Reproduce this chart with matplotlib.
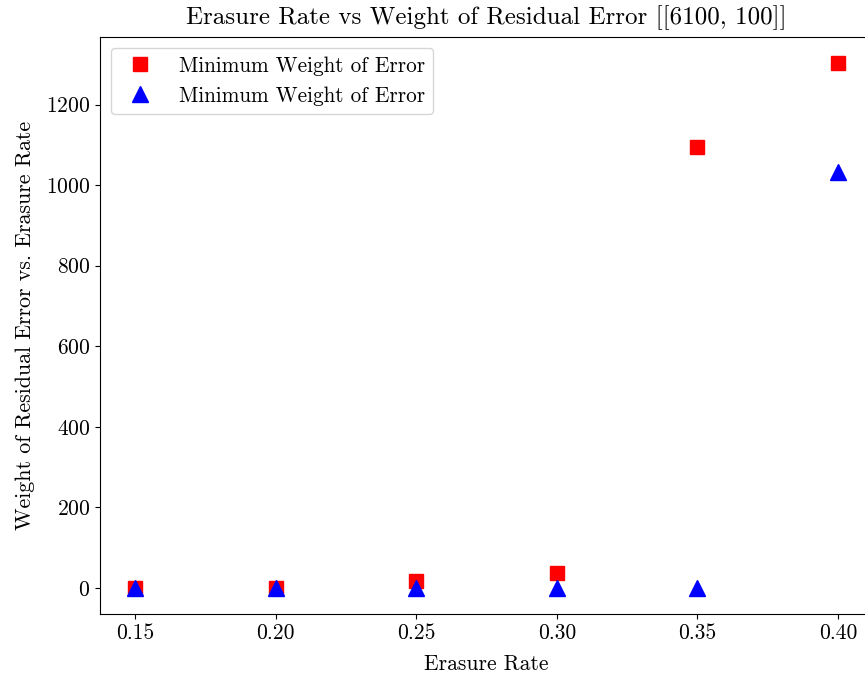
import matplotlib
matplotlib.use("Agg")
import matplotlib.pyplot as plt

plt.rcParams['font.family'] = ['cmr10', 'DejaVu Serif']
plt.rcParams['mathtext.fontset'] = 'cm'
plt.rcParams['axes.unicode_minus'] = False
plt.rcParams['axes.formatter.use_mathtext'] = True

erasure_rate = [0.15, 0.20, 0.25, 0.30, 0.35, 0.40]
red_weights = [0, 0, 18, 37, 1096, 1303]
blue_weights = [0, 0, 0, 0, 0, 1033]
labels = ["Minimum Weight of Error", "Minimum Weight of Error"]
title = "Erasure Rate vs Weight of Residual Error [[6100, 100]]"

fig = plt.figure(figsize=(8.65, 6.79), dpi=100)
ax = fig.add_axes([100/865, (679-614)/679, (873-100)/865, (614-37)/679])

ax.plot(erasure_rate, red_weights, linestyle='none', marker='s', color='red',
        markersize=10.5, label=labels[0])
ax.plot(erasure_rate, blue_weights, linestyle='none', marker='^', color='blue',
        markersize=11, label=labels[1])

ax.set_xticks(erasure_rate)
ax.set_xticklabels([f"{v:.2f}" for v in erasure_rate])
ax.tick_params(labelsize=15.5)
ax.set_title(title, fontsize=18, pad=9)
ax.set_xlabel("Erasure Rate", fontsize=15.5, labelpad=8)
ax.set_ylabel("Weight of Residual Error vs. Erasure Rate", fontsize=15.8, labelpad=8)
ax.legend(loc='upper left', fontsize=15.3)

fig.savefig("out.png", dpi=100)
